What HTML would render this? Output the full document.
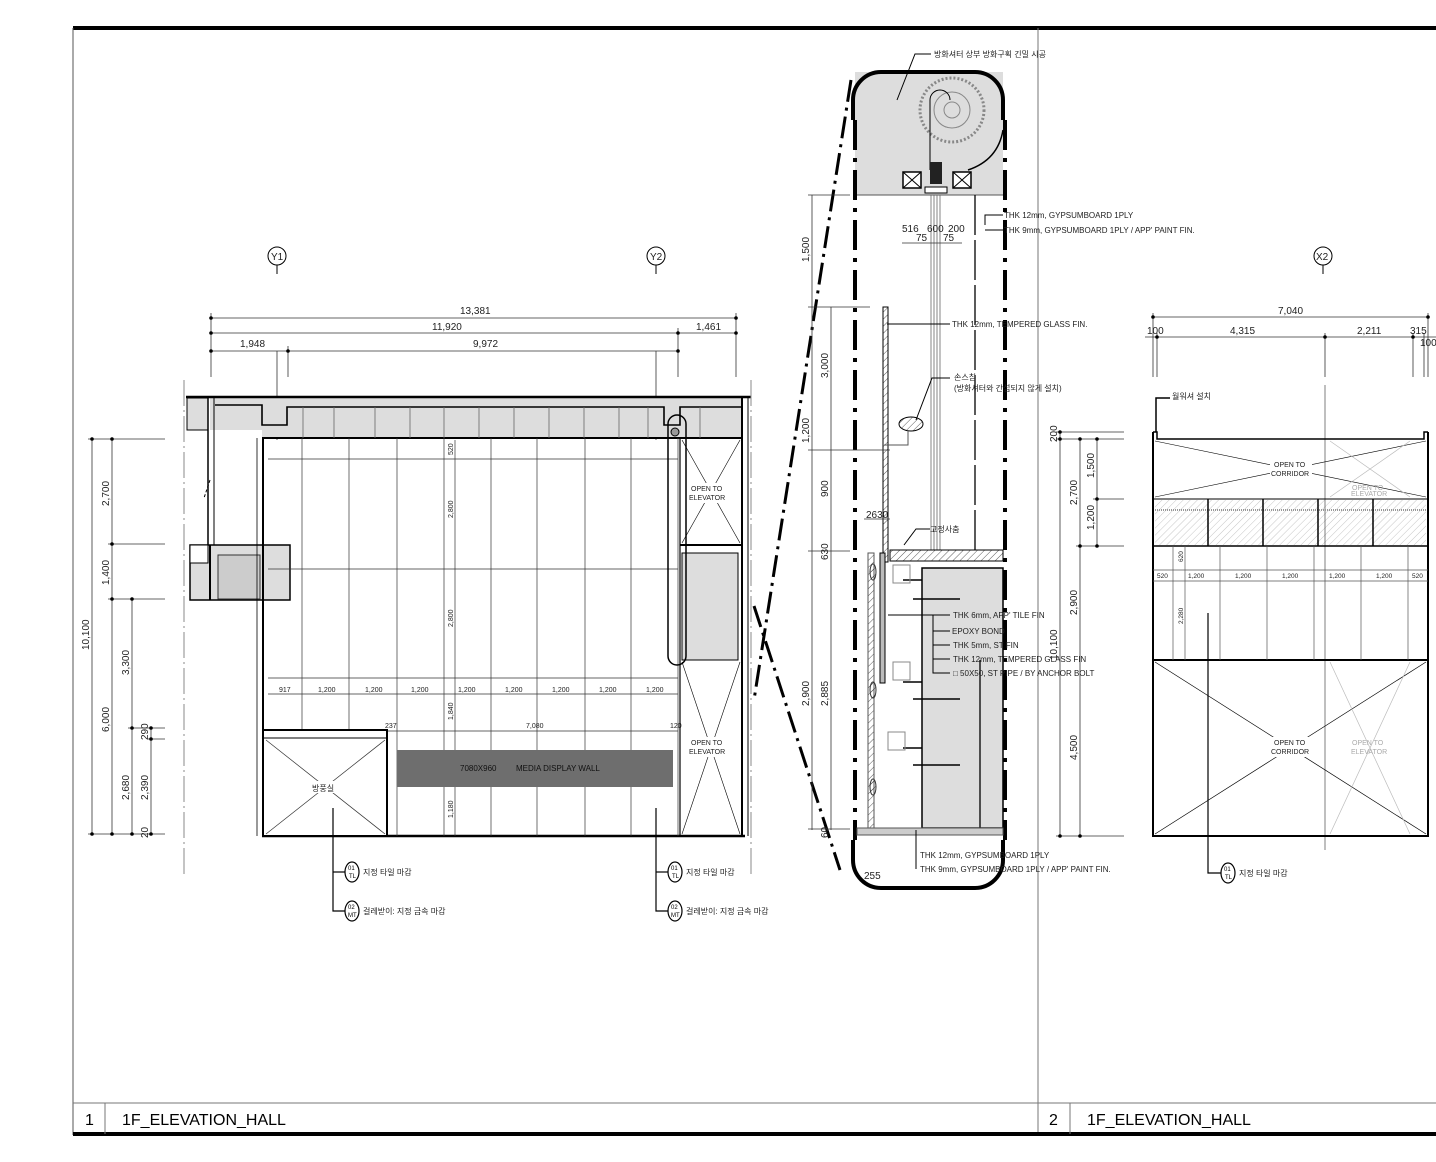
<!DOCTYPE html>
<html><head><meta charset="utf-8"><style>
html,body{margin:0;padding:0;background:#fff;}
svg{display:block;font-family:"Liberation Sans","Noto Sans CJK KR",sans-serif;}
.t{font-size:8px;fill:#222}
.d{font-size:10px;fill:#222}
.k{font-size:8px;fill:#222}
</style></head><body>
<svg width="1436" height="1162" viewBox="0 0 1436 1162" xmlns="http://www.w3.org/2000/svg">
<defs>
<pattern id="h" width="5" height="5" patternUnits="userSpaceOnUse" patternTransform="rotate(45)"><line x1="0" y1="0" x2="0" y2="5" stroke="#333" stroke-width="0.8"/></pattern>
</defs>
<!-- frame -->
<line x1="73" y1="28" x2="1436" y2="28" stroke="#000" stroke-width="4"/>
<line x1="73" y1="28" x2="73" y2="1135" stroke="#555" stroke-width="1"/>
<line x1="1038" y1="28" x2="1038" y2="1135" stroke="#777" stroke-width="1"/>
<line x1="73" y1="1103" x2="1436" y2="1103" stroke="#777" stroke-width="1"/>
<line x1="73" y1="1134" x2="1436" y2="1134" stroke="#000" stroke-width="4"/>
<line x1="105" y1="1103" x2="105" y2="1134" stroke="#777"/>
<line x1="1070" y1="1103" x2="1070" y2="1134" stroke="#777"/>
<text x="85" y="1125" font-size="16">1</text>
<text x="122" y="1125" font-size="16">1F_ELEVATION_HALL</text>
<text x="1049" y="1125" font-size="16">2</text>
<text x="1087" y="1125" font-size="16">1F_ELEVATION_HALL</text>

<!-- ===== LEFT ELEVATION ===== -->
<g stroke="#000" fill="none" stroke-width="1">
<circle cx="277" cy="256" r="9"/><line x1="277" y1="265" x2="277" y2="274"/>
<circle cx="656" cy="256" r="9"/><line x1="656" y1="265" x2="656" y2="274"/>
</g>
<text x="271" y="260" class="d">Y1</text><text x="650" y="260" class="d">Y2</text>
<g stroke="#333" stroke-width="0.8" fill="none">
<line x1="211" y1="318" x2="736" y2="318"/>
<line x1="211" y1="333" x2="736" y2="333"/>
<line x1="211" y1="351" x2="678" y2="351"/>
<line x1="211" y1="313" x2="211" y2="377"/><line x1="736" y1="313" x2="736" y2="377"/>
<line x1="678" y1="328" x2="678" y2="377"/><line x1="288" y1="346" x2="288" y2="377"/>
<line x1="277" y1="351" x2="277" y2="440"/><line x1="656" y1="351" x2="656" y2="440"/>
</g>
<g fill="#000"><circle cx="211" cy="318" r="1.8"/><circle cx="736" cy="318" r="1.8"/><circle cx="211" cy="333" r="1.8"/><circle cx="678" cy="333" r="1.8"/><circle cx="736" cy="333" r="1.8"/><circle cx="211" cy="351" r="1.8"/><circle cx="288" cy="351" r="1.8"/><circle cx="678" cy="351" r="1.8"/></g>
<text x="460" y="314" class="d">13,381</text>
<text x="432" y="330" class="d">11,920</text>
<text x="696" y="330" class="d">1,461</text>
<text x="240" y="347" class="d">1,948</text>
<text x="473" y="347" class="d">9,972</text>

<!-- ceiling band -->
<path d="M210 397 H743 V438 H262 V430 H210 Z" fill="#ddd"/>
<path d="M186 397 H751" stroke="#000" stroke-width="2.5"/>
<path d="M215 405 H262 V425 H287 V407 H664 V425 H680 V407 H742 V438" fill="none" stroke="#000" stroke-width="1.6"/>
<line x1="262" y1="438" x2="742" y2="438" stroke="#000" stroke-width="2"/>
<g stroke="#666" stroke-width="0.8">
<line x1="375" y1="407" x2="375" y2="438"/><line x1="410" y1="407" x2="410" y2="438"/><line x1="444" y1="407" x2="444" y2="438"/><line x1="479" y1="407" x2="479" y2="438"/><line x1="514" y1="407" x2="514" y2="438"/><line x1="549" y1="407" x2="549" y2="438"/><line x1="584" y1="407" x2="584" y2="438"/><line x1="619" y1="407" x2="619" y2="438"/><line x1="334" y1="407" x2="334" y2="438"/><line x1="303" y1="407" x2="303" y2="438"/><line x1="648" y1="407" x2="648" y2="438"/><line x1="700" y1="407" x2="700" y2="438"/>
</g>
<!-- left annex -->
<rect x="187" y="398" width="21" height="32" fill="#ddd" stroke="#000"/>
<line x1="208" y1="398" x2="208" y2="545" stroke="#000" stroke-width="1.5"/>
<line x1="214" y1="398" x2="214" y2="545" stroke="#000" stroke-width="1"/>
<path d="M210 480 l-6 18" stroke="#000" stroke-dasharray="3 2"/>
<rect x="190" y="545" width="100" height="55" fill="#ddd" stroke="#000" stroke-width="1.5"/>
<rect x="218" y="555" width="42" height="44" fill="#ccc" stroke="#333"/>
<line x1="210" y1="545" x2="210" y2="600" stroke="#000" stroke-width="2"/>
<rect x="190" y="545" width="18" height="18" fill="#fff" stroke="#000"/>

<!-- room -->
<g stroke="#000" fill="none">
<line x1="263" y1="438" x2="263" y2="836" stroke-width="2"/>
<line x1="257" y1="438" x2="257" y2="836" stroke-width="0.8"/>
<line x1="262" y1="836" x2="745" y2="836" stroke-width="2.5"/>
<line x1="742" y1="397" x2="742" y2="836" stroke-width="2"/>
<line x1="748" y1="397" x2="748" y2="836" stroke-width="1"/>
</g>
<g stroke="#333" stroke-width="0.7">
<line x1="302" y1="438" x2="302" y2="836"/><line x1="349" y1="438" x2="349" y2="836"/><line x1="397" y1="438" x2="397" y2="836"/><line x1="444" y1="438" x2="444" y2="836"/><line x1="491" y1="438" x2="491" y2="836"/><line x1="537" y1="438" x2="537" y2="836"/><line x1="585" y1="438" x2="585" y2="836"/><line x1="631" y1="438" x2="631" y2="836"/><line x1="678" y1="438" x2="678" y2="836"/>
<line x1="268" y1="459" x2="678" y2="459"/><line x1="268" y1="569" x2="678" y2="569"/><line x1="268" y1="678" x2="678" y2="678"/>
<line x1="268" y1="694" x2="678" y2="694"/><line x1="387" y1="731" x2="678" y2="731"/>
<line x1="455" y1="440" x2="455" y2="836"/>
</g>
<g class="t">
<text x="279" y="692" font-size="7">917</text>
<text x="318" y="692" font-size="7">1,200</text><text x="365" y="692" font-size="7">1,200</text><text x="411" y="692" font-size="7">1,200</text><text x="458" y="692" font-size="7">1,200</text><text x="505" y="692" font-size="7">1,200</text><text x="552" y="692" font-size="7">1,200</text><text x="599" y="692" font-size="7">1,200</text><text x="646" y="692" font-size="7">1,200</text>
<text x="385" y="728" font-size="7">237</text><text x="526" y="728" font-size="7">7,080</text><text x="670" y="728" font-size="7">120</text>
</g>
<g font-size="7" fill="#222">
<text transform="translate(453,455) rotate(-90)">520</text>
<text transform="translate(453,518) rotate(-90)">2,800</text>
<text transform="translate(453,627) rotate(-90)">2,800</text>
<text transform="translate(453,720) rotate(-90)">1,840</text>
<text transform="translate(453,776) rotate(-90)">960</text>
<text transform="translate(453,818) rotate(-90)">1,180</text>
</g>
<rect x="397" y="750" width="276" height="37" fill="#6e6e6e"/>
<text x="460" y="771" font-size="8" fill="#111">7080X960</text>
<text x="516" y="771" font-size="8" fill="#111">MEDIA DISPLAY WALL</text>
<!-- 방풍실 -->
<rect x="263" y="730" width="124" height="106" fill="#fff" stroke="#000" stroke-width="2"/>
<line x1="263" y1="738" x2="387" y2="738" stroke="#000"/>
<line x1="266" y1="740" x2="385" y2="834" stroke="#333" stroke-width="0.7"/><line x1="385" y1="740" x2="266" y2="834" stroke="#333" stroke-width="0.7"/>
<rect x="310" y="781" width="28" height="12" fill="#fff"/>
<text x="312" y="791" class="k">방풍실</text>
<!-- elevator column -->
<g stroke="#000" fill="none">
<line x1="680" y1="438" x2="680" y2="836" stroke-width="1.2"/>
<line x1="680" y1="545" x2="742" y2="545" stroke-width="2"/>
<line x1="682" y1="440" x2="740" y2="543" stroke-width="0.6"/><line x1="740" y1="440" x2="682" y2="543" stroke-width="0.6"/>
<line x1="682" y1="662" x2="740" y2="834" stroke-width="0.6"/><line x1="740" y1="662" x2="682" y2="834" stroke-width="0.6"/>
</g>
<rect x="682" y="553" width="56" height="107" fill="#ddd" stroke="#000"/>
<rect x="668" y="415" width="18" height="250" rx="9" fill="none" stroke="#000" stroke-width="1.5"/>
<circle cx="675" cy="432" r="4" fill="#999" stroke="#000"/>
<rect x="690" y="483" width="36" height="20" fill="#fff"/>
<text x="691" y="491" font-size="7" fill="#222">OPEN TO</text><text x="689" y="500" font-size="7" fill="#222">ELEVATOR</text>
<rect x="690" y="737" width="36" height="20" fill="#fff"/>
<text x="691" y="745" font-size="7" fill="#222">OPEN TO</text><text x="689" y="754" font-size="7" fill="#222">ELEVATOR</text>
<!-- center lines -->
<line x1="184" y1="380" x2="184" y2="875" stroke="#888" stroke-width="1" stroke-dasharray="26 4 2 4"/>
<line x1="751" y1="380" x2="751" y2="875" stroke="#888" stroke-width="1" stroke-dasharray="26 4 2 4"/>
<!-- left dims -->
<g stroke="#333" stroke-width="0.8">
<line x1="92" y1="439" x2="92" y2="834"/><line x1="112" y1="439" x2="112" y2="834"/><line x1="132" y1="599" x2="132" y2="834"/><line x1="151" y1="728" x2="151" y2="834"/>
<line x1="88" y1="439" x2="165" y2="439"/><line x1="108" y1="544" x2="165" y2="544"/><line x1="108" y1="599" x2="165" y2="599"/><line x1="128" y1="728" x2="165" y2="728"/><line x1="147" y1="739" x2="165" y2="739"/><line x1="88" y1="834" x2="165" y2="834"/>
</g>
<g fill="#000"><circle cx="92" cy="439" r="1.8"/><circle cx="112" cy="439" r="1.8"/><circle cx="112" cy="544" r="1.8"/><circle cx="112" cy="599" r="1.8"/><circle cx="132" cy="599" r="1.8"/><circle cx="132" cy="728" r="1.8"/><circle cx="151" cy="728" r="1.8"/><circle cx="151" cy="739" r="1.8"/><circle cx="92" cy="834" r="1.8"/><circle cx="112" cy="834" r="1.8"/><circle cx="132" cy="834" r="1.8"/><circle cx="151" cy="834" r="1.8"/></g>
<g class="d">
<text transform="translate(89,650) rotate(-90)">10,100</text>
<text transform="translate(109,506) rotate(-90)">2,700</text>
<text transform="translate(109,585) rotate(-90)">1,400</text>
<text transform="translate(109,732) rotate(-90)">6,000</text>
<text transform="translate(129,675) rotate(-90)">3,300</text>
<text transform="translate(129,800) rotate(-90)">2,680</text>
<text transform="translate(148,740) rotate(-90)">290</text>
<text transform="translate(148,800) rotate(-90)">2,390</text>
<text transform="translate(148,838) rotate(-90)">20</text>
</g>
<!-- callouts -->
<g stroke="#000" fill="none" stroke-width="1.2">
<path d="M333 808 V911 H345"/><path d="M333 872 H345"/>
<path d="M656 808 V911 H668"/><path d="M656 872 H668"/>
<ellipse cx="352" cy="872" rx="7" ry="10"/><ellipse cx="352" cy="911" rx="7" ry="10"/>
<ellipse cx="675" cy="872" rx="7" ry="10"/><ellipse cx="675" cy="911" rx="7" ry="10"/>
</g>
<g font-size="6" fill="#000">
<text x="348" y="870">01</text><text x="349" y="878">TL</text><text x="348" y="909">02</text><text x="348" y="917">MT</text>
<text x="671" y="870">01</text><text x="672" y="878">TL</text><text x="671" y="909">02</text><text x="671" y="917">MT</text>
</g>
<text x="363" y="875" class="k">지정 타일 마감</text>
<text x="363" y="914" class="k">걸레받이: 지정 금속 마감</text>
<text x="686" y="875" class="k">지정 타일 마감</text>
<text x="686" y="914" class="k">걸레받이: 지정 금속 마감</text>

<!-- ===== DETAIL ===== -->
<path d="M851 80 L754 700" stroke="#000" stroke-width="3" stroke-dasharray="22 6 3 6"/>
<path d="M754 606 L840 870" stroke="#000" stroke-width="3" stroke-dasharray="22 6 3 6"/>
<rect x="855" y="72" width="148" height="123" fill="#ddd"/>
<circle cx="952" cy="110" r="32" fill="none" stroke="#888" stroke-width="3" stroke-dasharray="2 2"/>
<circle cx="952" cy="110" r="18" fill="none" stroke="#888"/><circle cx="952" cy="110" r="8" fill="none" stroke="#888"/>
<path d="M930 170 V100 a10 10 0 0 1 20 0" fill="none" stroke="#000"/>
<path d="M968 170 q30 -10 35 -40" fill="none" stroke="#000" stroke-width="1.5"/>
<rect x="903" y="172" width="18" height="16" fill="#fff" stroke="#000" stroke-width="1.5"/><path d="M903 172 l18 16 M921 172 l-18 16" stroke="#000"/>
<rect x="953" y="172" width="18" height="16" fill="#fff" stroke="#000" stroke-width="1.5"/><path d="M953 172 l18 16 M971 172 l-18 16" stroke="#000"/>
<rect x="930" y="162" width="12" height="22" fill="#222"/>
<rect x="925" y="187" width="22" height="6" fill="#fff" stroke="#000"/>
<line x1="855" y1="195" x2="1003" y2="195" stroke="#555"/>
<path d="M853 120 V100 a28 28 0 0 1 28 -28 H975 a28 28 0 0 1 28 28 V120" fill="none" stroke="#000" stroke-width="4"/>
<path d="M853 840 V860 a28 28 0 0 0 28 28 H975 a28 28 0 0 0 28 -28 V840" fill="none" stroke="#000" stroke-width="4"/>
<line x1="855" y1="120" x2="855" y2="840" stroke="#000" stroke-width="4" stroke-dasharray="30 8 4 8"/>
<line x1="1005" y1="120" x2="1005" y2="840" stroke="#000" stroke-width="4" stroke-dasharray="30 8 4 8"/>
<g stroke="#666" stroke-width="0.8">
<line x1="931" y1="195" x2="931" y2="550"/><line x1="934" y1="195" x2="934" y2="550"/><line x1="937" y1="195" x2="937" y2="550"/><line x1="940" y1="195" x2="940" y2="550"/>
</g>
<line x1="975" y1="195" x2="975" y2="550" stroke="#000" stroke-width="1.3" stroke-dasharray="40 5"/>
<rect x="883" y="307" width="5" height="255" fill="url(#h)" stroke="#000"/>
<ellipse cx="911" cy="424" rx="12" ry="7" fill="url(#h)" stroke="#000"/>
<path d="M908 430 v15 h-24" fill="none" stroke="#555"/>
<!-- lower -->
<rect x="890" y="550" width="113" height="11" fill="url(#h)" stroke="#000"/>
<rect x="922" y="568" width="81" height="260" fill="#ddd" stroke="#000" stroke-width="1.5"/>
<line x1="980" y1="660" x2="980" y2="828" stroke="#000" stroke-width="1.3"/>
<rect x="868" y="553" width="6" height="277" fill="url(#h)" stroke="#555"/>
<rect x="880" y="553" width="5" height="130" fill="#bbb" stroke="#000"/>
<ellipse cx="873" cy="572" rx="3" ry="8" fill="url(#h)" stroke="#333"/><ellipse cx="873" cy="690" rx="3" ry="8" fill="url(#h)" stroke="#333"/><ellipse cx="873" cy="787" rx="3" ry="8" fill="url(#h)" stroke="#333"/>
<g stroke="#000" stroke-width="1.5">
<path d="M903 580 h19 M903 682 h19 M903 748 h19"/><line x1="913" y1="599" x2="960" y2="599"/><line x1="913" y1="699" x2="960" y2="699"/><line x1="913" y1="765" x2="960" y2="765"/>
</g>
<rect x="893" y="565" width="17" height="18" fill="none" stroke="#888"/><rect x="893" y="662" width="17" height="18" fill="none" stroke="#888"/><rect x="888" y="732" width="17" height="18" fill="none" stroke="#888"/>
<rect x="857" y="828" width="146" height="7" fill="#ccc" stroke="#555"/>
<!-- detail dims -->
<g stroke="#333" stroke-width="0.8">
<line x1="812" y1="195" x2="812" y2="830"/><line x1="831" y1="307" x2="831" y2="830"/>
<line x1="808" y1="195" x2="850" y2="195"/><line x1="808" y1="307" x2="870" y2="307"/><line x1="808" y1="450" x2="890" y2="450"/><line x1="808" y1="551" x2="850" y2="551"/><line x1="808" y1="829" x2="850" y2="829"/>
<line x1="902" y1="243" x2="962" y2="243"/><line x1="864" y1="519" x2="890" y2="519"/>
</g>
<g class="d">
<text transform="translate(809,262) rotate(-90)">1,500</text>
<text transform="translate(828,378) rotate(-90)">3,000</text>
<text transform="translate(809,443) rotate(-90)">1,200</text>
<text transform="translate(828,497) rotate(-90)">900</text>
<text transform="translate(828,560) rotate(-90)">630</text>
<text transform="translate(809,706) rotate(-90)">2,900</text>
<text transform="translate(828,706) rotate(-90)">2,885</text>
<text transform="translate(828,838) rotate(-90)">60</text>
<text x="902" y="232">516</text><text x="927" y="232">600</text><text x="948" y="232">200</text>
<text x="916" y="241">75</text><text x="943" y="241">75</text>
<text x="866" y="518">2630</text><text x="864" y="879">255</text>
</g>
<!-- detail leaders -->
<g stroke="#000" fill="none" stroke-width="1">
<path d="M931 54 H915 L897 100"/><path d="M1003 215 H985 V225"/><path d="M1003 230 H985 V230"/>
<path d="M887 324 H950"/><path d="M950 378 H932 L916 420"/>
<path d="M930 529 H916 L904 545"/>
<path d="M888 615 H950 M933 615 V673 H950 M933 631 H950 M933 645 H950 M933 659 H950"/>
<path d="M916 830 V869 H916 M916 855 H916"/>
</g>
<g class="t">
<text x="934" y="57" class="k">방화셔터 상부 방화구획 긴밀 시공</text>
<text x="1004" y="218">THK 12mm, GYPSUMBOARD 1PLY</text>
<text x="1004" y="233">THK 9mm, GYPSUMBOARD 1PLY / APP' PAINT FIN.</text>
<text x="952" y="327">THK 12mm, TEMPERED GLASS FIN.</text>
<text x="954" y="380" class="k">손스칩</text>
<text x="954" y="391" class="k">(방화셔터와 간섭되지 않게 설치)</text>
<text x="930" y="532" class="k">고정사춤</text>
<text x="953" y="618">THK 6mm, APP' TILE FIN</text>
<text x="952" y="634">EPOXY BOND</text>
<text x="953" y="648">THK 5mm, ST FIN</text>
<text x="953" y="662">THK 12mm, TEMPERED GLASS FIN</text>
<text x="953" y="676">□ 50X50, ST PIPE / BY ANCHOR  BOLT</text>
<text x="920" y="858">THK 12mm, GYPSUMBOARD 1PLY</text>
<text x="920" y="872">THK 9mm, GYPSUMBOARD 1PLY / APP' PAINT FIN.</text>
</g>

<!-- ===== RIGHT ELEVATION ===== -->
<circle cx="1323" cy="256" r="9" fill="none" stroke="#000"/><line x1="1323" y1="265" x2="1323" y2="274" stroke="#000"/>
<text x="1316" y="260" class="d">X2</text>
<g stroke="#333" stroke-width="0.8">
<line x1="1153" y1="317" x2="1428" y2="317"/><line x1="1145" y1="337" x2="1436" y2="337"/>
<line x1="1153" y1="313" x2="1153" y2="377"/><line x1="1157" y1="333" x2="1157" y2="377"/><line x1="1325" y1="333" x2="1325" y2="377"/><line x1="1413" y1="333" x2="1413" y2="377"/><line x1="1424" y1="333" x2="1424" y2="377"/><line x1="1428" y1="313" x2="1428" y2="377"/>
</g>
<g fill="#000"><circle cx="1153" cy="317" r="1.8"/><circle cx="1428" cy="317" r="1.8"/><circle cx="1157" cy="337" r="1.8"/><circle cx="1325" cy="337" r="1.8"/><circle cx="1413" cy="337" r="1.8"/></g>
<g class="d">
<text x="1278" y="314">7,040</text><text x="1147" y="334">100</text><text x="1230" y="334">4,315</text><text x="1357" y="334">2,211</text><text x="1410" y="334">315</text><text x="1420" y="346">100</text>
</g>
<path d="M1156 432 V398 H1170" fill="none" stroke="#000" stroke-width="1.5"/>
<text x="1172" y="399" class="k">월워셔 설치</text>
<line x1="1325" y1="385" x2="1325" y2="850" stroke="#aaa" stroke-width="1.5"/>
<g stroke="#000" fill="none">
<path d="M1153 432 V836 H1428 V432" stroke-width="2"/>
<path d="M1153 432 h4 v7 h267 v-7 h4" stroke-width="1.5"/>
<line x1="1153" y1="499" x2="1428" y2="499" stroke-width="1"/>
<line x1="1153" y1="546" x2="1428" y2="546" stroke-width="1.5"/>
<line x1="1153" y1="660" x2="1428" y2="660" stroke-width="2"/>
<line x1="1155" y1="441" x2="1426" y2="497" stroke-width="0.6"/><line x1="1426" y1="441" x2="1155" y2="497" stroke-width="0.6"/>
<line x1="1155" y1="662" x2="1426" y2="834" stroke-width="0.7"/><line x1="1426" y1="662" x2="1155" y2="834" stroke-width="0.7"/>
</g>
<g stroke="#bbb" stroke-width="0.7"><line x1="1330" y1="441" x2="1410" y2="497"/><line x1="1410" y1="441" x2="1330" y2="497"/><line x1="1330" y1="662" x2="1410" y2="834"/><line x1="1410" y1="662" x2="1330" y2="834"/></g>
<rect x="1155" y="500" width="271" height="45" fill="url(#h)" opacity="0.35"/>
<line x1="1155" y1="510" x2="1426" y2="510" stroke="#999" stroke-width="2" stroke-dasharray="1 1"/>
<g stroke="#000" stroke-width="1.5"><line x1="1208" y1="499" x2="1208" y2="546"/><line x1="1263" y1="499" x2="1263" y2="546"/><line x1="1318" y1="499" x2="1318" y2="546"/><line x1="1373" y1="499" x2="1373" y2="546"/></g>
<g stroke="#555" stroke-width="0.7">
<line x1="1173" y1="546" x2="1173" y2="660"/><line x1="1185" y1="546" x2="1185" y2="660"/><line x1="1220" y1="546" x2="1220" y2="660"/><line x1="1267" y1="546" x2="1267" y2="660"/><line x1="1314" y1="546" x2="1314" y2="660"/><line x1="1361" y1="546" x2="1361" y2="660"/><line x1="1408" y1="546" x2="1408" y2="660"/>
<line x1="1153" y1="570" x2="1428" y2="570"/><line x1="1153" y1="581" x2="1428" y2="581"/>
</g>
<g font-size="6.5" fill="#222">
<text x="1157" y="578">520</text><text x="1188" y="578">1,200</text><text x="1235" y="578">1,200</text><text x="1282" y="578">1,200</text><text x="1329" y="578">1,200</text><text x="1376" y="578">1,200</text><text x="1412" y="578">520</text>
<text transform="translate(1183,562) rotate(-90)">620</text>
<text transform="translate(1183,624) rotate(-90)">2,280</text>
</g>
<g font-size="7" fill="#222">
<rect x="1270" y="459" width="42" height="20" fill="#fff"/>
<text x="1274" y="467">OPEN TO</text><text x="1271" y="476">CORRIDOR</text>
<rect x="1270" y="737" width="42" height="20" fill="#fff"/>
<text x="1274" y="745">OPEN TO</text><text x="1271" y="754">CORRIDOR</text>
<g fill="#aaa"><text x="1352" y="490">OPEN TO</text><text x="1351" y="496">ELEVATOR</text><text x="1352" y="745">OPEN TO</text><text x="1351" y="754">ELEVATOR</text></g>
</g>
<g stroke="#333" stroke-width="0.8">
<line x1="1060" y1="432" x2="1060" y2="836"/><line x1="1080" y1="439" x2="1080" y2="836"/><line x1="1097" y1="439" x2="1097" y2="546"/>
<line x1="1056" y1="432" x2="1124" y2="432"/><line x1="1056" y1="439" x2="1124" y2="439"/><line x1="1093" y1="499" x2="1124" y2="499"/><line x1="1076" y1="546" x2="1124" y2="546"/><line x1="1056" y1="836" x2="1124" y2="836"/>
</g>
<g fill="#000"><circle cx="1060" cy="432" r="1.8"/><circle cx="1060" cy="439" r="1.8"/><circle cx="1080" cy="439" r="1.8"/><circle cx="1097" cy="439" r="1.8"/><circle cx="1097" cy="499" r="1.8"/><circle cx="1080" cy="546" r="1.8"/><circle cx="1097" cy="546" r="1.8"/><circle cx="1060" cy="836" r="1.8"/><circle cx="1080" cy="836" r="1.8"/></g>
<g class="d">
<text transform="translate(1057,442) rotate(-90)">200</text>
<text transform="translate(1077,505) rotate(-90)">2,700</text>
<text transform="translate(1094,478) rotate(-90)">1,500</text>
<text transform="translate(1094,530) rotate(-90)">1,200</text>
<text transform="translate(1077,615) rotate(-90)">2,900</text>
<text transform="translate(1057,660) rotate(-90)">10,100</text>
<text transform="translate(1077,760) rotate(-90)">4,500</text>
</g>
<path d="M1208 613 V873 H1221" fill="none" stroke="#000" stroke-width="1.2"/>
<ellipse cx="1228" cy="873" rx="7" ry="10" fill="none" stroke="#000" stroke-width="1.2"/>
<text x="1224" y="871" font-size="6">01</text><text x="1225" y="879" font-size="6">TL</text>
<text x="1239" y="876" class="k">지정 타일 마감</text>
</svg>
</body></html>
